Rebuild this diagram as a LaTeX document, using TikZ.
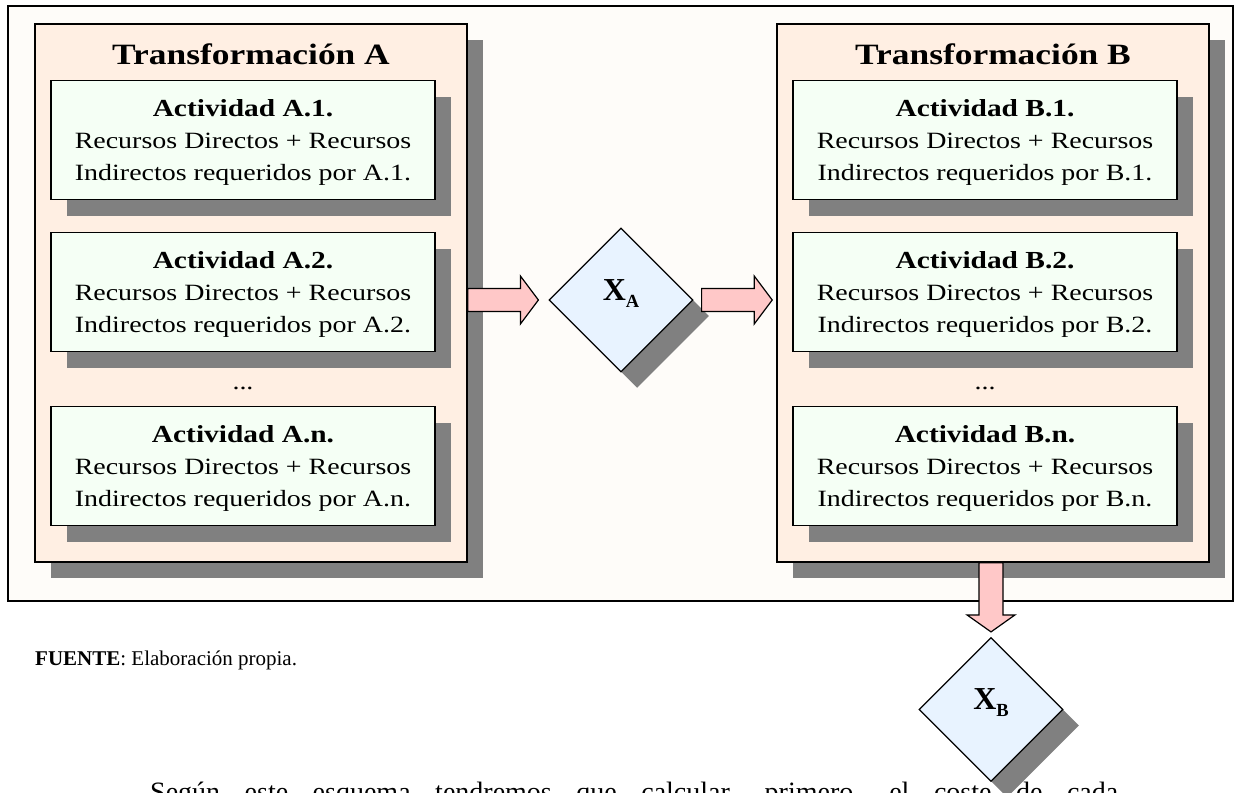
\documentclass[tikz,border=0pt]{standalone}
\usepackage{fontspec}
\setmainfont{Liberation Serif}
\newfontfamily\widefont[FakeStretch=1.2]{Liberation Serif}
\usetikzlibrary{shapes.geometric,shadows,calc}

\definecolor{framefill}{HTML}{FEFCF9}
\definecolor{transfill}{HTML}{FFEFE3}
\definecolor{actfill}{HTML}{F5FFF5}
\definecolor{decfill}{HTML}{E8F3FF}
\definecolor{arrowfill}{HTML}{FFC8C8}
\definecolor{shadowgray}{HTML}{808080}

\newcommand\titlefont{\widefont\bfseries\fontsize{29.5}{32}\selectfont}
\newcommand\acttitlefont{\widefont\bfseries\fontsize{24.5}{32}\selectfont}
\newcommand\actbodyfont{\widefont\fontsize{23.3}{32}\selectfont}

\tikzset{
  gshadow/.style={drop shadow={shadow xshift=16pt,shadow yshift=-16pt,opacity=1,fill=shadowgray}},
  framebox/.style={draw=black,line width=1.6pt,fill=framefill,minimum width=1225pt,minimum height=595pt,inner sep=0pt},
  transbox/.style={draw=black,line width=1.6pt,fill=transfill,minimum width=432pt,minimum height=538pt,inner sep=0pt,gshadow},
  actbox/.style={draw=black,line width=1.6pt,fill=actfill,minimum width=384pt,minimum height=119pt,inner sep=0pt,gshadow},
  decbox/.style={diamond,draw=black,line width=1.2pt,fill=decfill,minimum width=144pt,minimum height=144pt,inner sep=0pt,gshadow},
  txt/.style={anchor=base,inner sep=0pt},
  blockarrow/.style={draw=black,line width=1.2pt,fill=arrowfill,line join=miter},
}

% one activity box with its three lines of text
% #1 name, #2 centre x, #3 top y, #4 activity label
\newcommand\activity[4]{%
  \node[actbox] (#1) at (#2,#3+60) {};
  \node[txt,font=\acttitlefont] (#1-t) at (#2,#3+36) {Actividad #4.};
  \node[txt,font=\actbodyfont] (#1-l1) at (#2,#3+68) {Recursos Directos + Recursos};
  \node[txt,font=\actbodyfont] (#1-l2) at (#2,#3+100) {Indirectos requeridos por #4.};
}

% horizontal block arrow from #1 to the tip #2, at the height of #2
\newcommand\rightblock[2]{%
  \draw[blockarrow] let \p1=(#1), \p2=(#2) in
    (\x1,\y2+11.5pt) -- (\x2-18pt,\y2+11.5pt) -- (\x2-18pt,\y2+24pt) -- (\x2,\y2)
    -- (\x2-18pt,\y2-24pt) -- (\x2-18pt,\y2-11.5pt) -- (\x1,\y2-11.5pt) -- cycle;}

% vertical block arrow from #1 down to the tip #2, on the column of #2
\newcommand\downblock[2]{%
  \draw[blockarrow] let \p1=(#1), \p2=(#2) in
    (\x2-12pt,\y1) -- (\x2-12pt,\y2+17pt) -- (\x2-24pt,\y2+17pt) -- (\x2,\y2)
    -- (\x2+24pt,\y2+17pt) -- (\x2+12pt,\y2+17pt) -- (\x2+12pt,\y1) -- cycle;}

\begin{document}
\begin{tikzpicture}[x=1pt,y=-1pt]
\useasboundingbox (0,0) rectangle (1236,792);

% outer frame
\node[framebox] (frame) at (620.5,303.5) {};

% transformation A
\node[transbox] (TA) at (251,293) {};
\node[txt,font=\titlefont] (TA-t) at (251,64) {Transformación A};
\activity{A1}{243}{80}{A.1}
\activity{A2}{243}{232}{A.2}
\node[txt,font=\actbodyfont] (A-dots) at (243,389) {...};
\activity{An}{243}{406}{A.n}

% transformation B
\node[transbox] (TB) at (993,293) {};
\node[txt,font=\titlefont] (TB-t) at (993,64) {Transformación B};
\activity{B1}{985}{80}{B.1}
\activity{B2}{985}{232}{B.2}
\node[txt,font=\actbodyfont] (B-dots) at (985,389) {...};
\activity{Bn}{985}{406}{B.n}

% source note and following paragraph
\node[anchor=base west,inner sep=0pt,font=\fontsize{21}{25}\selectfont] (src) at (35,665)
  {\textbf{FUENTE}: Elaboración propia.};
\node[anchor=base west,inner sep=0pt,font=\fontsize{28}{34}\selectfont] (para) at (150,801)
  {\makebox[968pt][s]{Según este esquema tendremos que calcular, primero, el coste de cada}};

% intermediate products
\node[decbox] (XA) at (621,300) {};
\node[txt] (XA-t) at (621,300) {\bfseries\fontsize{32}{32}\selectfont X\raisebox{-7pt}{\fontsize{18.5}{18}\selectfont A}};
\node[decbox] (XB) at (991,709.5) {};
\node[txt] (XB-t) at (991,709) {\bfseries\fontsize{32}{32}\selectfont X\raisebox{-7pt}{\fontsize{18.5}{18}\selectfont B}};

% flow arrows
\coordinate (tipA) at ($(XA.west)+(-10,0)$);
\coordinate (tipB) at ($(TB.west |- XA.east)+(-4,0)$);
\coordinate (tipC) at ($(XB.north)+(0,-5)$);
\rightblock{TA.east}{tipA}
\rightblock{$(XA.east)+(8,0)$}{tipB}
\downblock{TB.south}{tipC}
\end{tikzpicture}
\end{document}
